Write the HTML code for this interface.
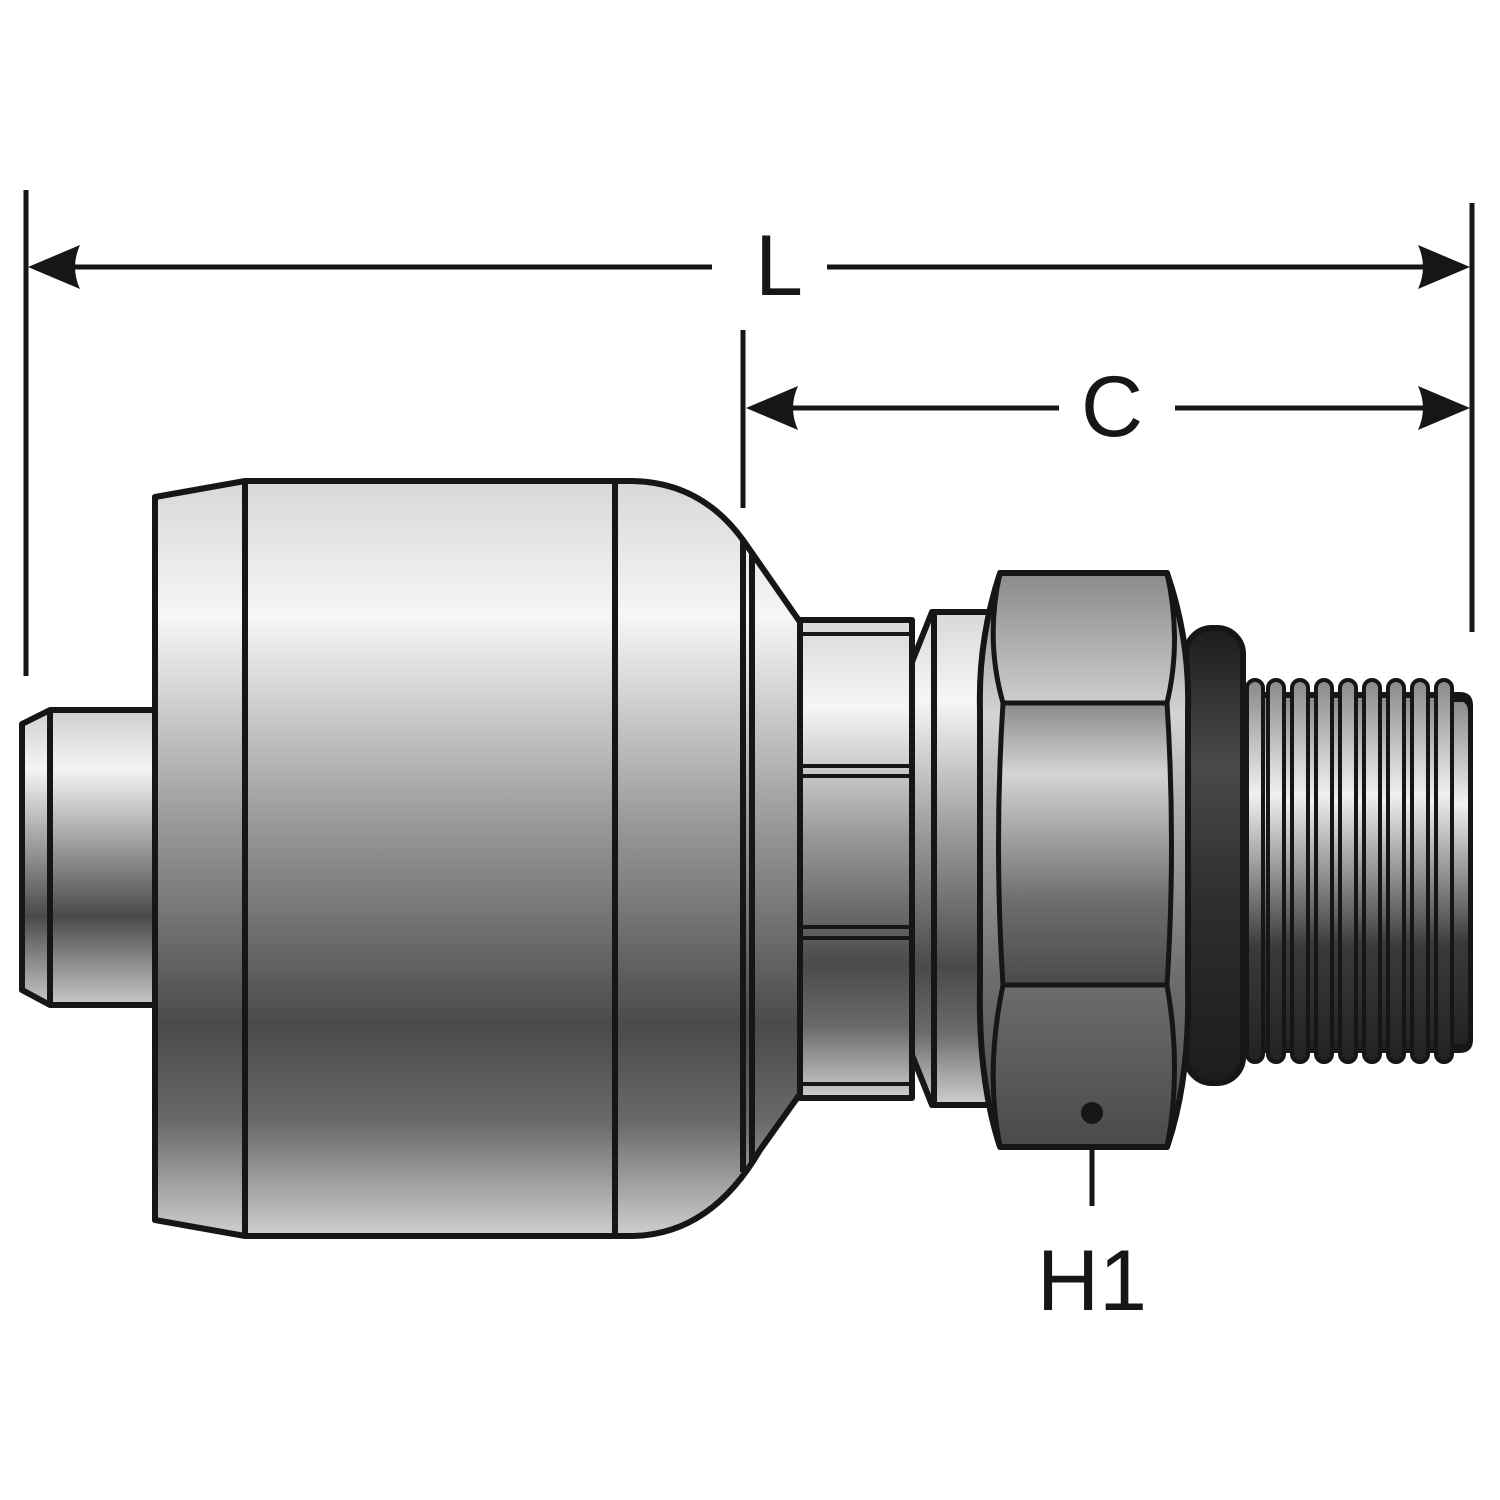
<!DOCTYPE html>
<html><head><meta charset="utf-8"><style>html,body{margin:0;padding:0;background:#fff}svg{display:block}</style></head>
<body>
<svg width="1500" height="1500" viewBox="0 0 1500 1500" xmlns="http://www.w3.org/2000/svg">
<defs>
<linearGradient id="g" x1="0" y1="0" x2="0" y2="1">
<stop offset="0" stop-color="#d8d8d8"/><stop offset="0.18" stop-color="#f6f6f6"/><stop offset="0.45" stop-color="#9a9a9a"/><stop offset="0.72" stop-color="#4a4a4a"/><stop offset="0.85" stop-color="#6a6a6a"/><stop offset="1" stop-color="#cfcfcf"/>
</linearGradient>
<linearGradient id="gs" x1="0" y1="0" x2="0" y2="1">
<stop offset="0" stop-color="#cfcfcf"/><stop offset="0.2" stop-color="#f4f4f4"/><stop offset="0.7" stop-color="#4a4a4a"/><stop offset="1" stop-color="#c8c8c8"/>
</linearGradient>
<linearGradient id="gh" x1="0" y1="0" x2="0" y2="1">
<stop offset="0" stop-color="#8a8a8a"/><stop offset="0.25" stop-color="#d4d4d4"/><stop offset="0.7" stop-color="#6e6e6e"/><stop offset="1" stop-color="#4a4a4a"/>
</linearGradient>
<linearGradient id="go" x1="0" y1="0" x2="0" y2="1">
<stop offset="0" stop-color="#1c1c1c"/><stop offset="0.3" stop-color="#4a4a4a"/><stop offset="0.6" stop-color="#2e2e2e"/><stop offset="1" stop-color="#1c1c1c"/>
</linearGradient>
<linearGradient id="gt" x1="0" y1="0" x2="0" y2="1">
<stop offset="0" stop-color="#888"/><stop offset="0.3" stop-color="#f0f0f0"/><stop offset="0.7" stop-color="#3a3a3a"/><stop offset="1" stop-color="#222"/>
</linearGradient>
</defs>
<g stroke="#161616" stroke-width="5" fill="none">
<line x1="26" y1="190" x2="26" y2="676"/>
<line x1="1472" y1="203" x2="1472" y2="632"/>
<line x1="743" y1="330" x2="743" y2="508"/>
<line x1="40" y1="267" x2="712" y2="267"/>
<line x1="827" y1="267" x2="1455" y2="267"/>
<line x1="760" y1="408" x2="1059" y2="408"/>
<line x1="1175" y1="408" x2="1458" y2="408"/>
<line x1="1092" y1="1115" x2="1092" y2="1206"/>
</g>
<g fill="#161616">
<path d="M28 267 L80 245 Q70 267 80 289 Z"/>
<path d="M1470 267 L1418 245 Q1428 267 1418 289 Z"/>
<path d="M746 408 L798 386 Q788 408 798 430 Z"/>
<path d="M1470 408 L1418 386 Q1428 408 1418 430 Z"/>
</g>
<g font-family="Liberation Sans, sans-serif" font-size="86" fill="#161616" text-anchor="middle">
<text x="779" y="295">L</text>
<text x="1112" y="436">C</text>
<text x="1092" y="1310">H1</text>
</g>
<g stroke="#161616" stroke-width="6" stroke-linejoin="round">
<path d="M22 724 L50 710 L155 710 L155 1005 L50 1005 L22 990 Z" fill="url(#gs)"/>
<line x1="50" y1="710" x2="50" y2="1005"/>
<path d="M155 497 L245 481 L630 481 Q700 481 743 540 L800 622 L800 1094 L760 1150 Q710 1236 630 1236 L245 1236 L155 1220 Z" fill="url(#g)"/>
<line x1="245" y1="481" x2="245" y2="1236"/>
<line x1="615" y1="481" x2="615" y2="1236"/>
<line x1="743" y1="540" x2="743" y2="1172"/>
<line x1="752" y1="553" x2="752" y2="1162"/>
<rect x="800" y="620" width="112" height="478" fill="url(#g)"/>
<line x1="800" y1="634" x2="912" y2="634" stroke-width="4"/>
<line x1="800" y1="766" x2="912" y2="766" stroke-width="4"/>
<line x1="800" y1="776" x2="912" y2="776" stroke-width="4"/>
<line x1="800" y1="927" x2="912" y2="927" stroke-width="4"/>
<line x1="800" y1="938" x2="912" y2="938" stroke-width="4"/>
<line x1="800" y1="1084" x2="912" y2="1084" stroke-width="4"/>
<path d="M912 662 L932 612 L990 612 L990 1105 L932 1105 L912 1055 Z" fill="url(#g)"/>
<line x1="934" y1="612" x2="934" y2="1105"/>
<rect x="1186" y="628" width="57" height="455" rx="26" fill="url(#go)"/>
<path d="M1243 695 L1460 695 Q1470 695 1470 705 L1470 1040 Q1470 1050 1460 1050 L1243 1050 Z" fill="url(#gt)"/>
<g stroke-width="4" fill="url(#gt)">
<rect x="1247" y="680" width="16" height="382" rx="8"/>
<rect x="1268" y="680" width="16" height="382" rx="8"/>
<rect x="1292" y="680" width="16" height="382" rx="8"/>
<rect x="1316" y="680" width="16" height="382" rx="8"/>
<rect x="1340" y="680" width="16" height="382" rx="8"/>
<rect x="1364" y="680" width="16" height="382" rx="8"/>
<rect x="1388" y="680" width="16" height="382" rx="8"/>
<rect x="1412" y="680" width="16" height="382" rx="8"/>
<rect x="1436" y="680" width="16" height="382" rx="8"/>
</g>
<path d="M1452 700 L1463 700 Q1470 702 1470 712 L1470 1038 Q1470 1046 1463 1046 L1452 1046 Z" fill="url(#gt)" stroke-width="4"/>
<path d="M1000 573 L1167 573 Q1190 640 1188 710 L1188 985 Q1190 1080 1167 1147 L1000 1147 Q978 1080 980 985 L980 710 Q978 640 1000 573 Z" fill="url(#gh)"/>
<path d="M1003 703 Q994 845 1003 985 L1167 985 Q1176 845 1167 703 Z" fill="url(#gh)" stroke-width="5"/>
<path d="M1003 703 Q985 640 1000 573 M1167 703 Q1182 640 1167 573" fill="none" stroke-width="5"/>
<path d="M1003 985 Q985 1070 1000 1147 M1167 985 Q1182 1070 1167 1147" fill="none" stroke-width="5"/>
</g>
<circle cx="1092" cy="1113" r="11" fill="#161616"/>
</svg>
</body></html>
